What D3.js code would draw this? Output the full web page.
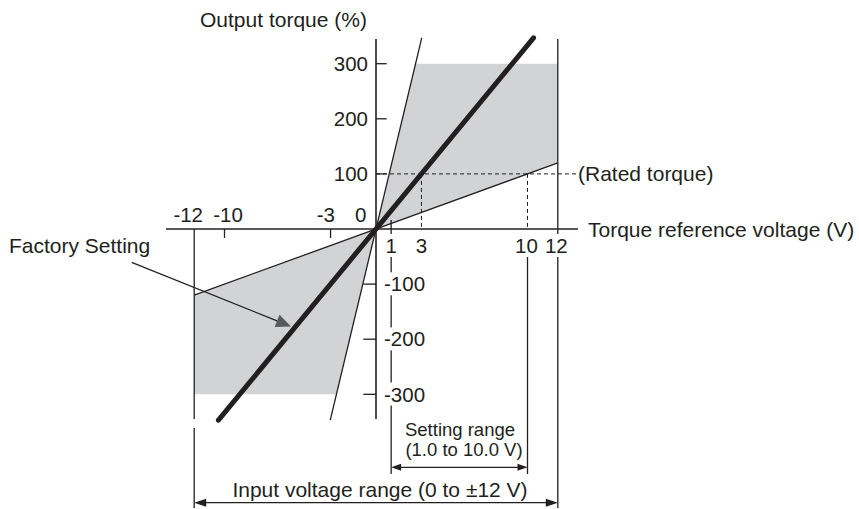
<!DOCTYPE html>
<html>
<head>
<meta charset="utf-8">
<script src="https://cdn.jsdelivr.net/npm/d3@7"></script>
<style>
  html, body { margin: 0; padding: 0; background: #fff; }
  svg { display: block; }
  text { font-family: "Liberation Sans", Arial, Helvetica, sans-serif; fill: #231f20; }
</style>
</head>
<body>
<svg id="chart" width="859" height="509"></svg>
<script>
// ---------------- data ----------------
const xTickValues = [-12, -10, -3, 0, 1, 3, 10, 12];
const yTickValues = [300, 200, 100, -100, -200, -300];
const steepLine = [[-3.02, -347], [3.02, 347]];      // 100% at ~1 V
const factoryLine = [[-10.4, -347], [10.4, 347]];    // 100% at 3 V (factory setting)
const gentleLine = [[-12, -120], [12, 120]];         // 100% at 10 V
const upperBand = [[0, 0], [2.6, 300], [12, 300], [12, 120]];
const lowerBand = [[0, 0], [-2.6, -300], [-12, -300], [-12, -120]];
const ratedTorque = 100;
const factoryVoltage = 3;
const settingRange = [1, 10];
const inputRange = [-12, 12];
const xAxisExtent = [-13.86, 13.33];
const yAxisExtent = [-345, 345];

// ---------------- layout ----------------
const ink = "#231f20";
const grey = "#d1d3d4";
const svg = d3.select("#chart");
const x = d3.scaleLinear().domain([-12, 12]).range([194.2, 557.8]);
const y = d3.scaleLinear().domain([-300, 300]).range([394.3, 63.7]);
const X0 = x(0), Y0 = y(0);
const line = d3.line().x(d => x(d[0])).y(d => y(d[1]));

// shaded bands
svg.selectAll("path.band").data([upperBand, lowerBand]).join("path")
  .attr("class", "band").attr("d", d => line(d) + "Z")
  .attr("fill", grey).attr("stroke", "none");

// thin characteristic lines
svg.selectAll("path.thin").data([steepLine, gentleLine]).join("path")
  .attr("class", "thin").attr("d", line)
  .attr("fill", "none").attr("stroke", ink).attr("stroke-width", 1.3);

// axes
svg.append("line").attr("x1", x(xAxisExtent[0])).attr("x2", x(xAxisExtent[1]))
  .attr("y1", Y0).attr("y2", Y0).attr("stroke", ink).attr("stroke-width", 1.6);
svg.append("line").attr("x1", X0).attr("x2", X0)
  .attr("y1", y(yAxisExtent[1])).attr("y2", y(yAxisExtent[0])).attr("stroke", ink).attr("stroke-width", 1.6);

// dashed guides
const dash = "4,3";
svg.append("line").attr("x1", X0).attr("x2", 576.5).attr("y1", y(ratedTorque)).attr("y2", y(ratedTorque))
  .attr("stroke", ink).attr("stroke-width", 1).attr("stroke-dasharray", dash);
[factoryVoltage, settingRange[1]].forEach(v => {
  svg.append("line").attr("x1", x(v)).attr("x2", x(v)).attr("y1", y(ratedTorque)).attr("y2", Y0)
    .attr("stroke", ink).attr("stroke-width", 1).attr("stroke-dasharray", dash);
});

// vertical extension lines
const vlines = [
  [x(inputRange[1]), y(yAxisExtent[1]), 508],
  [x(inputRange[0]), Y0, 419],
  [x(inputRange[0]), 428, 508],
  [x(settingRange[0]), Y0 - 9, 474],
  [x(settingRange[1]), 255, 474]
];
vlines.forEach(([xx, a, b]) => svg.append("line").attr("x1", xx).attr("x2", xx).attr("y1", a).attr("y2", b)
  .attr("stroke", ink).attr("stroke-width", 1.3));

// x ticks (-10, -3 down ticks, 1 crossing tick)
[-10, -3].forEach(v => svg.append("line").attr("x1", x(v)).attr("x2", x(v)).attr("y1", Y0).attr("y2", Y0 + 9)
  .attr("stroke", ink).attr("stroke-width", 1.3));

// y ticks
yTickValues.forEach(v => {
  const pos = v > 0;
  svg.append("line").attr("x1", X0).attr("x2", pos ? X0 + 10.7 : X0 - 12.7)
    .attr("y1", y(v)).attr("y2", y(v)).attr("stroke", ink).attr("stroke-width", 1.3);
});

// factory-setting thick line
svg.append("path").attr("d", line(factoryLine)).attr("fill", "none")
  .attr("stroke", ink).attr("stroke-width", 5).attr("stroke-linecap", "round");

// labels with white backing
function label(txt, px, py, size, anchor, backing) {
  const g = svg.append("g");
  const t = g.append("text").attr("x", px).attr("y", py).attr("font-size", size)
    .attr("text-anchor", anchor).text(txt);
  if (backing) {
    const b = t.node().getBBox();
    g.insert("rect", "text").attr("x", b.x - 1).attr("y", b.y).attr("width", b.width + 2)
      .attr("height", b.height).attr("fill", "#fff");
  }
  return t;
}

const fs = 20.5;
// x tick labels
const xLabelDx = { "-12": -6, "-10": 3.5, "-3": -4.7, "0": 0, "1": 0, "3": 0, "10": -1, "12": -1.5 };
xTickValues.forEach(v => {
  if (v < 0) label(String(v), x(v) + xLabelDx[v], 221.7, fs, "middle", false);
  else if (v === 0) label("0", X0 - 9.5, 221.7, fs, "end", false);
  else label(String(v), x(v) + xLabelDx[v], 253, fs, "middle", true);
});
// y tick labels
yTickValues.forEach(v => {
  if (v > 0) label(String(v), 368, y(v) + 7.2, fs, "end", false);
  else label(String(v), 384, y(v) + 7.2, fs, "start", true);
});

// titles
label("Output torque (%)", 200, 26.7, 21, "start", false);
label("Torque reference voltage (V)", 588, 236.7, 21, "start", false);
label("(Rated torque)", 578, 180.5, 21, "start", false);
label("Factory Setting", 9, 253.3, 21, "start", false);
label("Setting range", 460, 436, 18.5, "middle", false);
label("(1.0 to 10.0 V)", 464, 456, 18.5, "middle", false);
label("Input voltage range (0 to \u00b112 V)", 380, 496.7, 21, "middle", false);

// dimension arrows
function dimArrow(x1, x2, yy, len, hw) {
  svg.append("line").attr("x1", x1 + len - 1).attr("x2", x2 - len + 1).attr("y1", yy).attr("y2", yy)
    .attr("stroke", ink).attr("stroke-width", 1.3);
  svg.append("path").attr("d", `M${x1},${yy}L${x1 + len},${yy - hw}L${x1 + len},${yy + hw}Z`).attr("fill", ink);
  svg.append("path").attr("d", `M${x2},${yy}L${x2 - len},${yy - hw}L${x2 - len},${yy + hw}Z`).attr("fill", ink);
}
dimArrow(x(settingRange[0]), x(settingRange[1]), 467.3, 10, 3.5);
dimArrow(x(inputRange[0]), x(inputRange[1]), 502.7, 12, 4);

// factory-setting pointer
(function () {
  const sx = 131.7, sy = 262.3, tx = 291, ty = 326.5;
  const ang = Math.atan2(ty - sy, tx - sx);
  const L = 15, hw = 6.5;
  const bx = tx - L * Math.cos(ang), by = ty - L * Math.sin(ang);
  svg.append("line").attr("x1", sx).attr("y1", sy).attr("x2", bx).attr("y2", by)
    .attr("stroke", ink).attr("stroke-width", 1.3);
  const px = -Math.sin(ang) * hw, py = Math.cos(ang) * hw;
  svg.append("path").attr("d", `M${tx},${ty}L${bx + px},${by + py}L${bx - px},${by - py}Z`)
    .attr("fill", "#58595b");
})();
</script>
</body>
</html>
